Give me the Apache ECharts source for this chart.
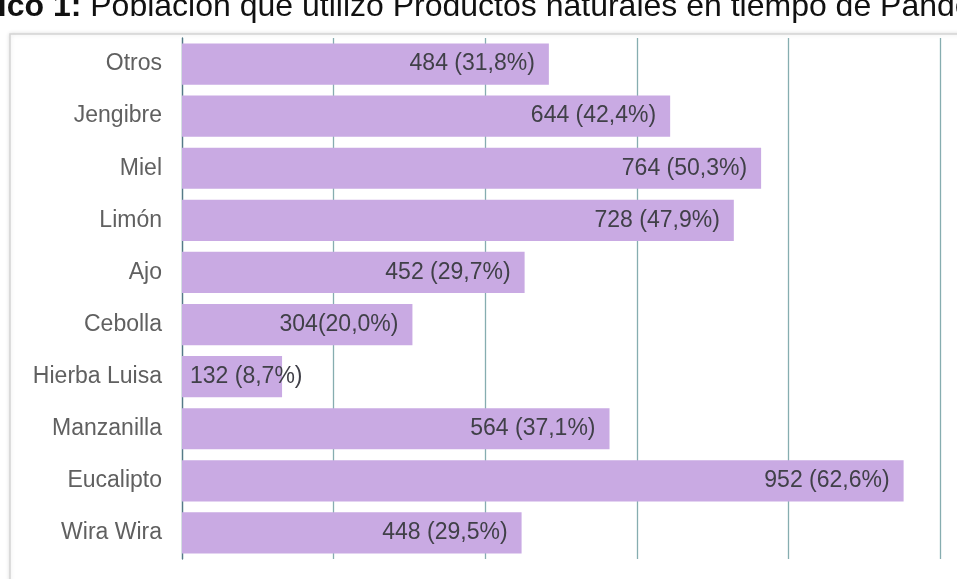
<!DOCTYPE html>
<html><head><meta charset="utf-8">
<script src="https://cdn.jsdelivr.net/npm/echarts@6/dist/echarts.min.js"></script>
<style>html,body{margin:0;padding:0;background:#fff}#c{width:957px;height:579px}</style>
</head><body><div id="c"></div>
<script>
var categories = ["Otros","Jengibre","Miel","Limón","Ajo","Cebolla","Hierba Luisa","Manzanilla","Eucalipto","Wira Wira"];
var values = [484,644,764,728,452,304,132,564,952,448];
var labels = ["484 (31,8%)","644 (42,4%)","764 (50,3%)","728 (47,9%)","452 (29,7%)","304(20,0%)","132 (8,7%)","564 (37,1%)","952 (62,6%)","448 (29,5%)"];
var xTicks = [0,200,400,600,800,1000];
var titleBold = "Gráfico 1:";
var titleRest = " Población que utilizó Productos naturales en tiempo de Pandemia";

var FONT = '"Liberation Sans", Arial, sans-serif';
var seriesData = values.map(function(v, i){
  var item = {value: v};
  if (v < 200) item.label = {position:'insideLeft', distance:8};
  return item;
});

var chart = echarts.init(document.getElementById('c'));
chart.setOption({
  animation:false,
  backgroundColor:'#fff',
  graphic:[
    {type:'rect', shape:{x:10,y:34,width:980,height:560}, style:{fill:'#fff',stroke:'#d4d4d4',lineWidth:1.5,shadowColor:'rgba(0,0,0,0.12)',shadowBlur:4}, z:-10},
    {type:'text', left:-68, top:-9, z:10,
      style:{text:'{b|'+titleBold+'}{n|'+titleRest+'}',
        rich:{b:{fontSize:32,fontWeight:'bold',fontFamily:FONT,fill:'#111'},n:{fontSize:32,fontFamily:FONT,fill:'#111'}}}}
  ],
  grid:{left:182,right:17,top:38,bottom:20,containLabel:false},
  xAxis:{type:'value',min:xTicks[0],max:xTicks[xTicks.length-1],interval:200,
    axisLabel:{show:false},axisLine:{show:false},axisTick:{show:false},
    splitLine:{show:true,lineStyle:{color:'#86adb0',width:1.3}}},
  yAxis:{type:'category',data:categories,inverse:true,
    axisLine:{show:true,lineStyle:{color:'#557a88',width:1.3}},axisTick:{show:false},
    axisLabel:{color:'#606060',fontSize:23,margin:20,fontFamily:FONT}},
  series:[{type:'bar',data:seriesData,barCategoryGap:'21%',
    itemStyle:{color:'#c9aae3'},
    label:{show:true,position:'insideRight',distance:14,color:'#404048',fontSize:23,
      fontFamily:FONT,
      formatter:function(p){return labels[p.dataIndex];}}}]
});
</script></body></html>
